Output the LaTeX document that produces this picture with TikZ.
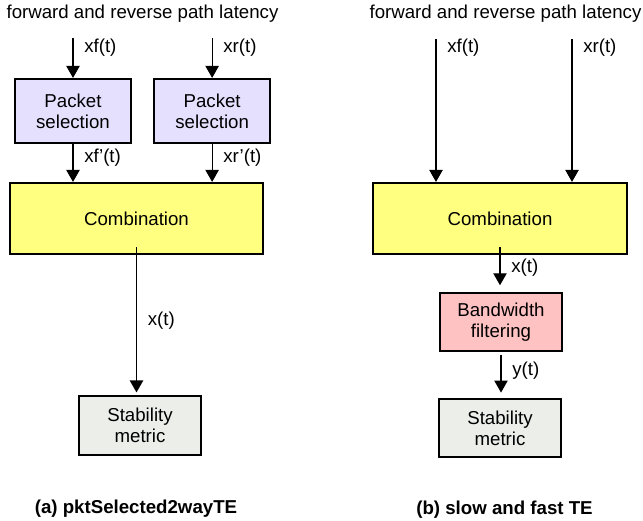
\documentclass[tikz,border=0pt]{standalone}
\usepackage{fontspec}
\setmainfont{Liberation Sans}
\usetikzlibrary{arrows.meta,positioning}

\definecolor{selfill}{RGB}{230,224,255}
\definecolor{combfill}{RGB}{255,255,128}
\definecolor{bwfill}{RGB}{255,194,194}
\definecolor{stabfill}{RGB}{236,238,234}

\begin{document}
\begin{tikzpicture}[x=0.75pt, y=-0.75pt, >={Triangle[length=9pt,width=10pt]},
	font=\fontsize{14}{15.5}\selectfont]
		
		\tikzstyle{box}=[draw, line width=1.6pt, align=center, inner sep=0pt]
		\tikzstyle{flow}=[->, line width=0.9pt]
		\tikzstyle{lbl}=[right, inner sep=0pt, xshift=8pt]
		\tikzstyle{caption}=[font=\fontsize{14}{15.5}\selectfont\bfseries]
		
		\useasboundingbox (0,0) rectangle (643,521);
		
		% (a) packet selection on both paths
		\node (titleA) at (142.5,14) {forward and reverse path latency};
		\node[box, fill=selfill, minimum width=87pt, minimum height=48pt] (selF) at (73,111) {Packet\\selection};
		\node[box, fill=selfill, minimum width=87pt, minimum height=48pt, right=15.75pt of selF] (selR) {Packet\\selection};
		\node[box, fill=combfill, minimum width=190pt, minimum height=53.25pt] (combA) at (136.5,218.5) {Combination};
		\node[box, fill=stabfill, minimum width=91.5pt, minimum height=44pt] (stabA) at (140,425.5) {Stability\\metric};
		\node[caption] (capA) at (136,509) {(a) pktSelected2wayTE};
		\coordinate (inF) at (73,38);
		\coordinate (inR) at (selR.north |- inF);
		
		\draw[flow] (inF) -- node[lbl, pos=0.25]{xf(t)} (selF.north);
		\draw[flow] (inR) -- node[lbl, pos=0.25]{xr(t)} (selR.north);
		\draw[flow] (selF.south) -- node[lbl, pos=0.35]{xf'(t)} (selF.south |- combA.north);
		\draw[flow] (selR.south) -- node[lbl, pos=0.35]{xr'(t)} (selR.south |- combA.north);
		\draw[flow, shorten >=2pt] ([yshift=6pt]combA.south) -- node[lbl, pos=0.5]{x(t)} (combA.south |- stabA.north);
		
		% (b) slow and fast TE
		\node (titleB) at (505.5,14) {forward and reverse path latency};
		\coordinate (inFb) at (436,39);
		\coordinate (inRb) at (572,39);
		\node[box, fill=combfill, minimum width=190.5pt, minimum height=53.25pt] (combB) at (500,218.5) {Combination};
		\node[box, fill=bwfill, minimum width=91.5pt, minimum height=43.5pt] (bwB) at (501,322) {Bandwidth\\filtering};
		\node[box, fill=stabfill, minimum width=91.5pt, minimum height=43.5pt] (stabB) at (500,428) {Stability\\metric};
		\node[caption] (capB) at (504.5,510) {(b) slow and fast TE};
		
		\draw[flow] (inFb) -- node[lbl, pos=0.06]{xf(t)} (inFb |- combB.north);
		\draw[flow] (inRb) -- node[lbl, pos=0.06]{xr(t)} (inRb |- combB.north);
		\draw[flow, shorten >=5pt] ([yshift=6pt]combB.south) -- node[lbl, pos=0.45]{x(t)} (combB.south |- bwB.north);
		\draw[flow, shorten <=2pt, shorten >=4pt] (bwB.south) -- node[lbl, pos=0.4]{y(t)} (bwB.south |- stabB.north);
		
\end{tikzpicture}
\end{document}
